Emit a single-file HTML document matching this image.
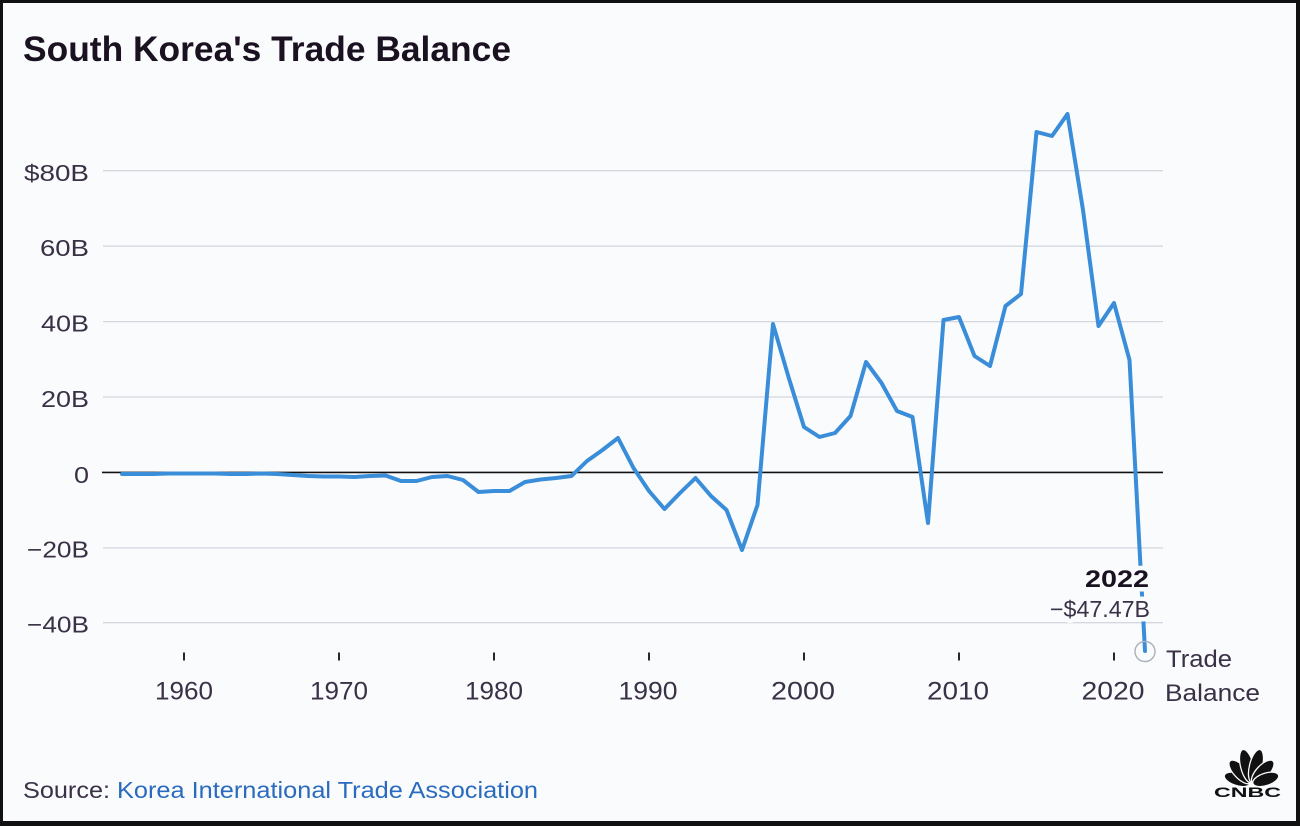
<!DOCTYPE html>
<html>
<head>
<meta charset="utf-8">
<style>
html,body{margin:0;padding:0;background:#111;}
svg{display:block;}
</style>
</head>
<body>
<svg width="1300" height="826" viewBox="0 0 1300 826" xmlns="http://www.w3.org/2000/svg" font-family="'Liberation Sans', sans-serif">
  <rect x="0" y="0" width="1300" height="826" fill="#111"/>
  <rect x="3" y="3" width="1293" height="818" fill="#fafbfd"/>

  <!-- Title -->
  <text x="23" y="61" font-size="35.5" font-weight="bold" fill="#1a1220" textLength="488" lengthAdjust="spacingAndGlyphs">South Korea's Trade Balance</text>

  <!-- gridlines -->
  <g stroke="#d3d7df" stroke-width="1.3">
    <line x1="103" y1="170.7" x2="1163" y2="170.7"/>
    <line x1="103" y1="246.2" x2="1163" y2="246.2"/>
    <line x1="103" y1="321.6" x2="1163" y2="321.6"/>
    <line x1="103" y1="397" x2="1163" y2="397"/>
    <line x1="103" y1="547.9" x2="1163" y2="547.9"/>
    <line x1="103" y1="622.7" x2="1163" y2="622.7"/>
  </g>
  <line x1="102" y1="472.4" x2="1163" y2="472.4" stroke="#111" stroke-width="1.6"/>

  <!-- y labels -->
  <g font-size="23" fill="#3a3146" text-anchor="end">
    <text x="89" y="181" textLength="65" lengthAdjust="spacingAndGlyphs">$80B</text>
    <text x="89" y="256" textLength="49" lengthAdjust="spacingAndGlyphs">60B</text>
    <text x="89" y="331.5" textLength="48" lengthAdjust="spacingAndGlyphs">40B</text>
    <text x="89" y="407" textLength="48" lengthAdjust="spacingAndGlyphs">20B</text>
    <text x="89" y="483" textLength="15" lengthAdjust="spacingAndGlyphs">0</text>
    <text x="89" y="557.5" textLength="62" lengthAdjust="spacingAndGlyphs">−20B</text>
    <text x="89" y="632.5" textLength="62" lengthAdjust="spacingAndGlyphs">−40B</text>
  </g>

  <!-- x ticks -->
  <g stroke="#2a2430" stroke-width="2">
    <line x1="184" y1="652.5" x2="184" y2="660.5"/>
    <line x1="339" y1="652.5" x2="339" y2="660.5"/>
    <line x1="494" y1="652.5" x2="494" y2="660.5"/>
    <line x1="649" y1="652.5" x2="649" y2="660.5"/>
    <line x1="804" y1="652.5" x2="804" y2="660.5"/>
    <line x1="959" y1="652.5" x2="959" y2="660.5"/>
    <line x1="1114" y1="652.5" x2="1114" y2="660.5"/>
  </g>
  <!-- x labels -->
  <g font-size="25" fill="#3a3146" text-anchor="middle">
    <text x="184" y="699.5" textLength="58" lengthAdjust="spacingAndGlyphs">1960</text>
    <text x="339" y="699.5" textLength="58" lengthAdjust="spacingAndGlyphs">1970</text>
    <text x="494" y="699.5" textLength="58" lengthAdjust="spacingAndGlyphs">1980</text>
    <text x="648" y="699.5" textLength="59" lengthAdjust="spacingAndGlyphs">1990</text>
    <text x="803" y="699.5" textLength="64" lengthAdjust="spacingAndGlyphs">2000</text>
    <text x="958" y="699.5" textLength="62" lengthAdjust="spacingAndGlyphs">2010</text>
    <text x="1113" y="699.5" textLength="63" lengthAdjust="spacingAndGlyphs">2020</text>
  </g>

  <!-- series -->
  <polyline fill="none" stroke="#3a8dd9" stroke-width="4" stroke-linejoin="round" stroke-linecap="round"
    points="122,474 137.5,474 153,474 168.5,473.5 184,473.5 199.5,473.5 215,473.5 230.5,474 246,474 261.5,473.5 277,474 292.5,475 308,476 323.5,476.5 339,476.5 354.5,477 370,476 385.5,475.5 401,481 416.5,481 432,477 447.5,476 463,480 478.5,492 494,491 509.5,491 525,482 540.5,479.5 556,478 571.5,476 587,461 602.5,450 618,438 633.5,468 649,491 664.5,509 680,493 695.5,478 711,496 726.5,510 742,550 757.5,505 773,324 788.5,377 804,427 819.5,437 835,433 850.5,416 866,362 881.5,383 897,411 912.5,417 928,523 943.5,320 959,317 974.5,356 990,366 1005.5,306 1021,294 1036.5,132 1052,136 1067.5,114 1083,210 1098.5,326 1114,303 1129.5,360 1145,651"/>

  <circle cx="1145" cy="651.5" r="10" fill="none" stroke="#a9b0bb" stroke-width="1.4"/>

  <!-- annotation -->
  <g text-anchor="end" stroke="#fafbfd" stroke-width="9" paint-order="stroke" stroke-linejoin="round">
    <text x="1149" y="587" font-size="24" font-weight="bold" fill="#1a1220" textLength="64" lengthAdjust="spacingAndGlyphs">2022</text>
    <text x="1150" y="617" font-size="23" fill="#3a3146" textLength="100" lengthAdjust="spacingAndGlyphs">−$47.47B</text>
  </g>

  <!-- legend label -->
  <g font-size="24" fill="#3a3146">
    <text x="1166" y="667" textLength="66" lengthAdjust="spacingAndGlyphs">Trade</text>
    <text x="1165" y="701" textLength="95" lengthAdjust="spacingAndGlyphs">Balance</text>
  </g>

  <!-- source -->
  <text x="23" y="798" font-size="23" fill="#3a3146" textLength="87" lengthAdjust="spacingAndGlyphs">Source:</text>
  <text x="117" y="798" font-size="23" fill="#2a6bbd" textLength="421" lengthAdjust="spacingAndGlyphs">Korea International Trade Association</text>

  <!-- CNBC logo -->
  <g fill="#111" stroke="#fafbfd" stroke-width="1.3">
    <ellipse cx="0" cy="-15" rx="6.2" ry="13.5" transform="translate(1251.5,784) rotate(-72)"/>
    <ellipse cx="0" cy="-16.5" rx="6.5" ry="15" transform="translate(1251.5,784) rotate(-43)"/>
    <ellipse cx="0" cy="-18.5" rx="6.5" ry="17" transform="translate(1251.5,784) rotate(-14)"/>
    <ellipse cx="0" cy="-18.5" rx="6.5" ry="17" transform="translate(1251.5,784) rotate(14)"/>
    <ellipse cx="0" cy="-16.5" rx="6.5" ry="15" transform="translate(1251.5,784) rotate(43)"/>
    <ellipse cx="0" cy="-15" rx="6.2" ry="13.5" transform="translate(1251.5,784) rotate(72)"/>
  </g>
  <text x="1214" y="797" font-size="14" font-weight="bold" fill="#111" textLength="67" lengthAdjust="spacingAndGlyphs">CNBC</text>
</svg>
</body>
</html>
